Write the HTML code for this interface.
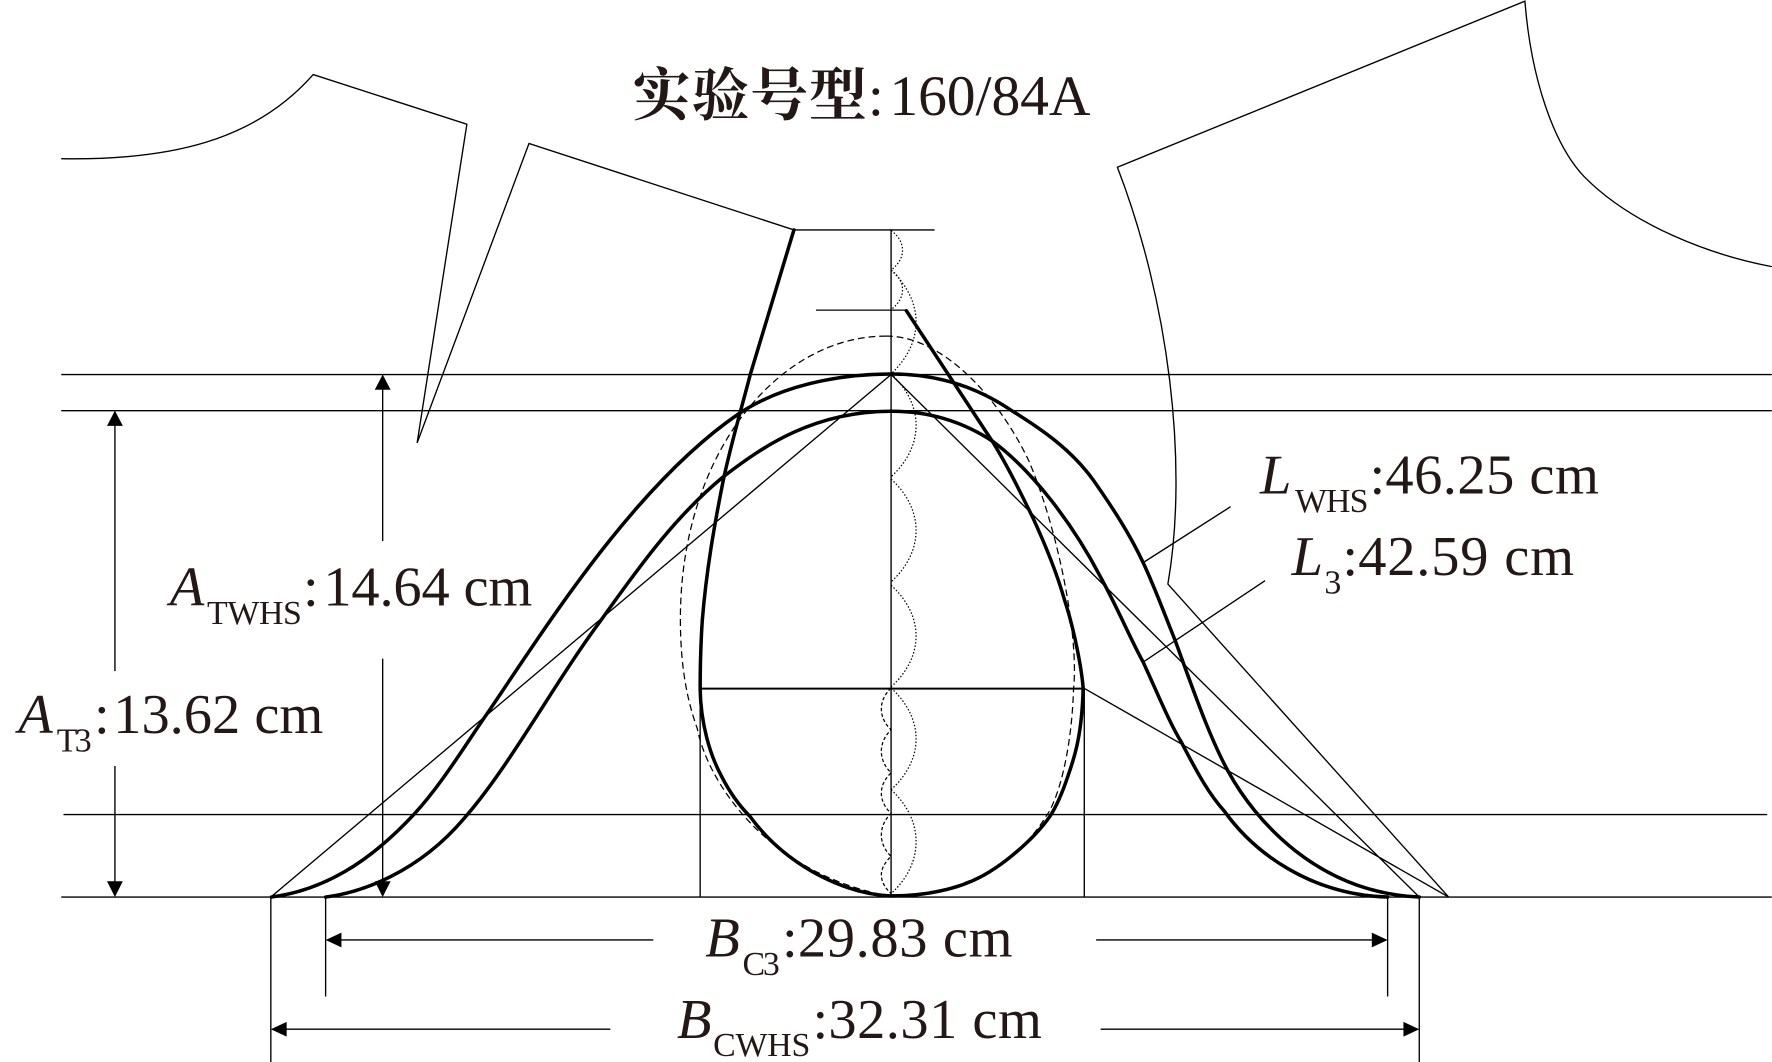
<!DOCTYPE html>
<html lang="zh"><head><meta charset="utf-8"><title>实验号型</title>
<style>
html,body{margin:0;padding:0;background:#fff}
svg{display:block}
text{font-family:"Liberation Serif","Noto Serif CJK SC",serif;fill:#231815}
.i{font-style:italic}
</style></head><body>
<svg width="1772" height="1062" viewBox="0 0 1568 940" xmlns="http://www.w3.org/2000/svg">
<rect width="1568" height="940" fill="#fff"/>
<g fill="none" stroke="#000" stroke-width="1.2">
<!-- pattern outlines -->
<path d="M54,140.500 C150,142 225,125 277,66 L413,110 L369,392 L468,127 L702.500,203.500 L827,203.500"/>
<path d="M1568,236 C1515,226 1445,200 1402,156.400 C1375,128 1355,70 1349.500,1 L988.800,148 C1034,265 1052,410 1033.500,517 L1282,794"/>
<!-- horizontals -->
<path d="M54,331.500H1568M54,363.500H1568M56,721H1564M54,794H1568M722,274.500H802"/>
<path d="M620,609.500H959" stroke-width="1.700"/>
<!-- verticals -->
<path d="M788.500,203V794M619.500,609V794M959.500,609V794"/>
<path d="M239.500,794V940M1256,794V940M288,794V882M1228,794V882"/>
<!-- construction -->
<path d="M239.500,794L788.500,331.500L1256,794M959,609L1282,794"/>
<!-- leaders -->
<path d="M1011.600,498L1089,448.500M1011.600,586L1119.500,514"/>
<!-- dims -->
<path d="M101.500,368V594M101.500,678V790M338.500,336V479M338.500,583V790M293,832H578M970,832H1223M244,911H540M974,911H1251"/>
</g>
<!-- arrowheads -->
<g fill="#000">
<polygon points="101.500,363.500 94.500,377 108.500,377"/>
<polygon points="101.500,794 94.500,780 108.500,780"/>
<polygon points="338.500,331.500 331.500,345 345.500,345"/>
<polygon points="338.500,794 331.500,780 345.500,780"/>
<polygon points="288,832 302,825.500 302,838.500"/>
<polygon points="1228,832 1214,825.500 1214,838.500"/>
<polygon points="239.500,911 253.500,904.500 253.500,917.500"/>
<polygon points="1256,911 1242,904.500 1242,917.500"/>
</g>
<!-- dashed -->
<g fill="none" stroke="#000" stroke-width="1.100" stroke-dasharray="6 3.500">
<path d="M784,297.500 C690,297 602,400 602,548 C602,590 608,620 617,645 C625,688 675,772 786,793"/>
<path d="M784,297.500 C830,297 880,345 910,407 C935,465 955,560 950,610 C948,670 935,710 926,722 C900,765 850,793 788,793"/>
</g>
<g fill="none" stroke="#000" stroke-width="1.100" stroke-dasharray="3 2">
<path d="M788.500,609 C777,620 777,635 788.500,646 C777,657 777,673 788.500,684 C777,695 777,709 788.500,720 C777,731 777,747 788.500,758 C777,769 777,780 788.500,791"/>
</g>
<g fill="none" stroke="#000" stroke-width="1.100" stroke-dasharray="1.300 1.700">
<path d="M788.500,204 C802,214 802,229 788.500,239 C802,249 802,264 788.500,274"/>
<path d="M788.500,239 C818,267 818,303 788.500,331 C818,358 818,395 788.500,422"/>
<path d="M788.500,424 C818,451 818,488 788.500,515"/>
<path d="M788.500,518 C818,545 818,581 788.500,608"/>
<path d="M788.500,609 C818,636 818,672 788.500,699"/>
<path d="M788.500,699 C818,726 818,764 788.500,791"/>
</g>
<!-- thick curves -->
<g fill="none" stroke="#000" stroke-width="3.100" stroke-linecap="round" stroke-linejoin="round">
<path d="M702.500,203.500 L664,331 C656,362 647,392 640,425 C632,465 625,505 621.400,549 C620,570 619.500,590 619.500,610 C620,640 628,668 638.400,687 C646,702 654,713 663.700,722.700 C680,745 700,762 726.700,775.800 C745,785 765,792 788,793 C810,793 830,790 847,784.700 C865,779 878,771 891,761 C905,750 919,737 929,722.700 C936,712 941,699 945,687 C951,670 957.500,650 958.500,609 C957,590 950,555 942,531 C936,510 925,482 913.400,457 C903,436 893,415 879,392 L802,275"/>
<path d="M240,794 C285,788 325,765 366,721 C390,695 410,662 430,633 C480,560 560,430 654,366 C690,342 740,331 789,331 C830,331 865,343 894.500,363 C922,380 948,398 967.500,425 C985,450 1000,473 1011.600,498 C1022,520 1031,545 1040,567 C1055,608 1070,652 1087,683 C1110,725 1165,790 1256,794"/>
<path d="M288,794 C320,790 370,772 410,725 C450,680 490,605 531,550 C570,495 600,455 640,422 C675,395 720,364 789,364 C825,364 855,375 879,391 C915,418 950,465 973.500,510 C990,540 1000,565 1011.600,586 C1025,615 1035,640 1045.500,657 C1060,685 1070,703 1083.500,718 C1110,755 1160,792 1228,794"/>
</g>
<!-- title -->
<text x="560" y="102" font-size="51" font-weight="700" style="font-family:'Noto Serif CJK SC',serif" textLength="207" lengthAdjust="spacing">实验号型</text>
<text x="768" y="102" font-size="51">:</text>
<text x="787" y="102" font-size="51" textLength="178">160/84A</text>
<!-- A TWHS -->
<text x="150" y="536" font-size="50" class="i">A</text>
<text x="183" y="552.500" font-size="30" textLength="84">TWHS</text>
<text x="268" y="536" font-size="50">:</text>
<text x="286" y="536" font-size="50" textLength="185">14.64 cm</text>
<!-- A T3 -->
<text x="16" y="649" font-size="50" class="i">A</text>
<text x="50" y="665" font-size="30" textLength="31">T3</text>
<text x="83" y="649" font-size="50">:</text>
<text x="100" y="649" font-size="50" textLength="186">13.62 cm</text>
<!-- L WHS -->
<text x="1115" y="437" font-size="50" class="i">L</text>
<text x="1146" y="453" font-size="30" textLength="65">WHS</text>
<text x="1212" y="437" font-size="50">:</text>
<text x="1226" y="437" font-size="50" textLength="189">46.25 cm</text>
<!-- L 3 -->
<text x="1143" y="509" font-size="50" class="i">L</text>
<text x="1172" y="525.500" font-size="30">3</text>
<text x="1188" y="509" font-size="50">:</text>
<text x="1202" y="509" font-size="50" textLength="191">42.59 cm</text>
<!-- B C3 -->
<text x="624" y="846.500" font-size="50" class="i">B</text>
<text x="657" y="863" font-size="30" textLength="33">C3</text>
<text x="692" y="846.500" font-size="50">:</text>
<text x="706" y="846.500" font-size="50" textLength="190">29.83 cm</text>
<!-- B CWHS -->
<text x="599" y="918.800" font-size="50" class="i">B</text>
<text x="631" y="934.600" font-size="30" textLength="86">CWHS</text>
<text x="719" y="918.800" font-size="50">:</text>
<text x="733" y="918.800" font-size="50" textLength="189">32.31 cm</text>
</svg>
</body></html>
